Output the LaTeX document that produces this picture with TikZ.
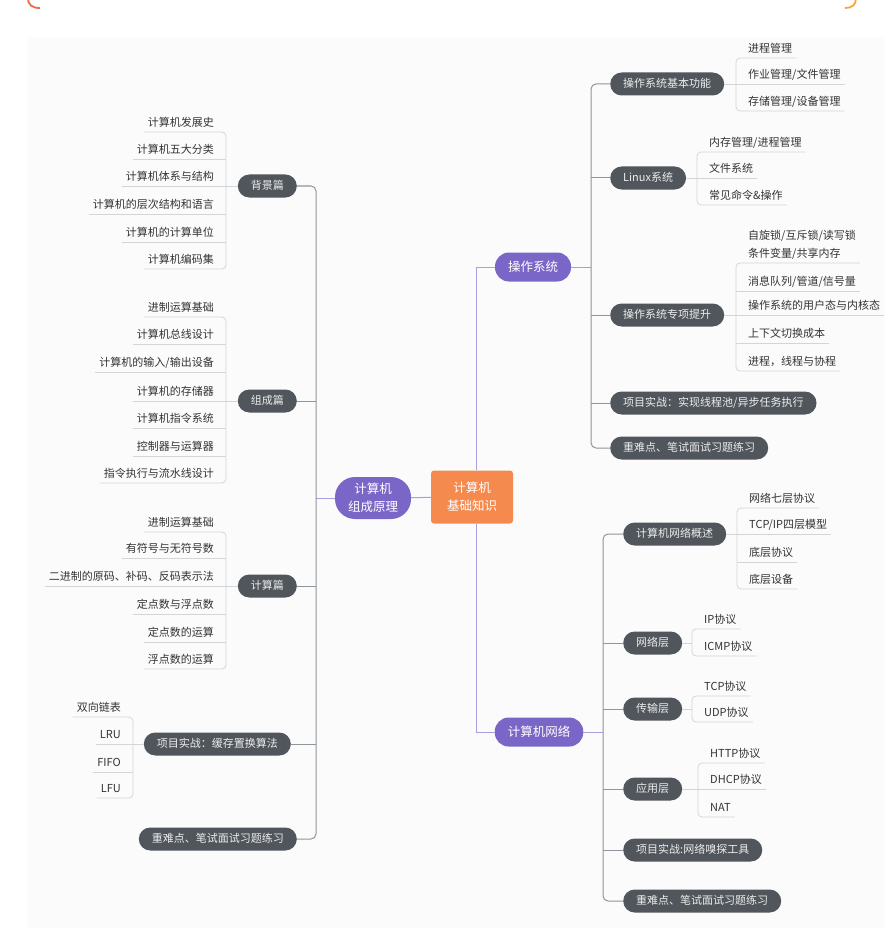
\documentclass[tikz,border=0pt]{standalone}
\usepackage{fontspec}
\setmainfont{Noto Sans CJK SC}
\usepackage{tikz}
\usetikzlibrary{calc}

\definecolor{rootcol}{HTML}{F58A4F}
\definecolor{maincol}{HTML}{7A66C7}
\definecolor{pillcol}{HTML}{50565C}
\definecolor{pilltext}{HTML}{EDEDED}
\definecolor{leaftext}{HTML}{333333}
\definecolor{leafcol}{HTML}{D3D6D9}
\definecolor{spinecol}{HTML}{8F959A}
\definecolor{lavcol}{HTML}{A99EDF}
\definecolor{bgcol}{HTML}{FBFBFB}
\definecolor{crescL}{HTML}{F26A3D}
\definecolor{crescR}{HTML}{F8A33C}

\newcommand{\leaffont}{\fontsize{11pt}{13pt}\selectfont}
\newcommand{\topicfont}{\fontsize{12.5pt}{18pt}\selectfont}

\tikzset{
  rootbox/.style={fill=rootcol, rounded corners=3pt, text=white, font=\topicfont,
    align=center, minimum width=82pt, minimum height=53pt, inner sep=0pt},
  mainpill/.style={fill=maincol, text=white, font=\topicfont, align=center,
    rounded corners=14pt, inner xsep=13pt, inner ysep=0pt, minimum height=29pt},
  subpill/.style={fill=pillcol, text=pilltext, font=\leaffont, rounded corners=11.5pt,
    inner xsep=13pt, inner ysep=0pt, minimum height=23pt, text height=9pt, text depth=2pt},
  leaf/.style={text=leaftext, font=\leaffont, inner xsep=4pt, inner ysep=3pt,
    text height=9pt, text depth=2pt},
  leafL/.style={leaf, anchor=south east},
  leafR/.style={leaf, anchor=south west},
  leafline/.style={draw=leafcol, line width=0.8pt},
  spine/.style={draw=spinecol, line width=1pt},
  lavline/.style={draw=lavcol, line width=1pt},
}

\begin{document}
\begin{tikzpicture}[x=1pt, y=-1pt]
\useasboundingbox (0,0) rectangle (885,928);
\fill[bgcol] (27,37) rectangle (885,928);
% corners of the card above
\draw[crescL, line width=1.8pt] (28,-2) .. controls (28,5) and (32,8) .. (40,8);
\draw[crescR, line width=1.8pt] (845,8) .. controls (852,8) and (856,5) .. (856,-2);

% centre and main topics
\node[rootbox] (root) at (472,497) {计算机\\基础知识};
\node[mainpill, minimum width=75pt, minimum height=42pt, rounded corners=20pt] (zc) at (373,498) {计算机\\组成原理};
\node[mainpill] (os) at (533,267) {操作系统};
\node[mainpill] (net) at (539,732) {计算机网络};

\coordinate (rt) at (476,0);
\coordinate (lS) at (316,0);
\coordinate (oS) at (591,0);
\coordinate (nS) at (603,0);
\draw[lavline] (root.north -| rt) |- (os);
\draw[lavline] (root.south -| rt) |- (net);
\draw[lavline] (root) -- (zc);
\draw[lavline] (zc) -- (zc -| lS);
\draw[lavline] (os) -- (os -| oS);
\draw[lavline] (net) -- (net -| nS);

% left topics
\node[subpill, anchor=east] (bj) at (297,186) {背景篇};
\node[subpill, anchor=east] (zcp) at (297,401) {组成篇};
\node[subpill, anchor=east] (js) at (297,586) {计算篇};
\node[subpill, anchor=east] (hc) at (291,744) {项目实战：缓存置换算法};
\node[subpill, anchor=east] (lzd) at (297,839) {重难点、笔试面试习题练习};
\draw[spine, rounded corners=5pt] (bj) -| (lS |- lzd) -- (lzd);
\draw[spine] (zcp) -- (zcp -| lS);
\draw[spine] (js) -- (js -| lS);
\draw[spine] (hc) -- (hc -| lS);

% operating system topics
\node[subpill, anchor=west] (os1) at (610,84) {操作系统基本功能};
\node[subpill, anchor=west] (os2) at (610,178) {Linux系统};
\node[subpill, anchor=west] (os3) at (610,315) {操作系统专项提升};
\node[subpill, anchor=west] (os4) at (610,403) {项目实战：实现线程池/异步任务执行};
\node[subpill, anchor=west] (os5) at (610,448) {重难点、笔试面试习题练习};
\draw[spine, rounded corners=5pt] (os1) -| (oS |- os5) -- (os5);
\draw[spine] (os2) -- (os2 -| oS);
\draw[spine] (os3) -- (os3 -| oS);
\draw[spine] (os4) -- (os4 -| oS);

% network topics
\node[subpill, anchor=west] (n1) at (623,534) {计算机网络概述};
\node[subpill, anchor=west] (n2) at (623,643) {网络层};
\node[subpill, anchor=west] (n3) at (623,709) {传输层};
\node[subpill, anchor=west] (n4) at (623,789) {应用层};
\node[subpill, anchor=west] (n5) at (623,850) {项目实战:网络嗅探工具};
\node[subpill, anchor=west] (n6) at (623,901) {重难点、笔试面试习题练习};
\draw[spine, rounded corners=5pt] (n1) -| (nS |- n6) -- (n6);
\draw[spine] (n2) -- (n2 -| nS);
\draw[spine] (n3) -- (n3 -| nS);
\draw[spine] (n4) -- (n4 -| nS);
\draw[spine] (n5) -- (n5 -| nS);

% 背景篇
\coordinate (bjB) at (226,186);
\node[leafL] (bj1) at (218,132) {计算机发展史};
\node[leafL] (bj2) at (218,159) {计算机五大分类};
\node[leafL] (bj3) at (218,186) {计算机体系与结构};
\node[leafL] (bj4) at (218,214) {计算机的层次结构和语言};
\node[leafL] (bj5) at (218,242) {计算机的计算单位};
\node[leafL] (bj6) at (218,269) {计算机编码集};
\draw[leafline, rounded corners=4pt] (bj1.south west) -- (bj1.south west -| bjB) -- (bj6.south west -| bjB) -- (bj6.south west);
\draw[leafline] (bj2.south west) -- (bj2.south west -| bjB);
\draw[leafline] (bj3.south west) -- (bj3.south west -| bjB);
\draw[leafline] (bj4.south west) -- (bj4.south west -| bjB);
\draw[leafline] (bj5.south west) -- (bj5.south west -| bjB);
\draw[leafline] (bj) -- (bjB);

% 组成篇
\coordinate (zcB) at (226,401);
\node[leafL] (zc1) at (218,317) {进制运算基础};
\node[leafL] (zc2) at (218,344) {计算机总线设计};
\node[leafL] (zc3) at (218,372) {计算机的输入/输出设备};
\node[leafL] (zc4) at (218,401) {计算机的存储器};
\node[leafL] (zc5) at (218,428) {计算机指令系统};
\node[leafL] (zc6) at (218,456) {控制器与运算器};
\node[leafL] (zc7) at (218,483) {指令执行与流水线设计};
\draw[leafline, rounded corners=4pt] (zc1.south west) -- (zc1.south west -| zcB) -- (zc7.south west -| zcB) -- (zc7.south west);
\draw[leafline] (zc2.south west) -- (zc2.south west -| zcB);
\draw[leafline] (zc3.south west) -- (zc3.south west -| zcB);
\draw[leafline] (zc4.south west) -- (zc4.south west -| zcB);
\draw[leafline] (zc5.south west) -- (zc5.south west -| zcB);
\draw[leafline] (zc6.south west) -- (zc6.south west -| zcB);
\draw[leafline] (zcp) -- (zcB);

% 计算篇
\coordinate (jsB) at (226,586);
\node[leafL] (js1) at (218,532) {进制运算基础};
\node[leafL] (js2) at (218,558) {有符号与无符号数};
\node[leafL] (js3) at (218,586) {二进制的原码、补码、反码表示法};
\node[leafL] (js4) at (218,614) {定点数与浮点数};
\node[leafL] (js5) at (218,642) {定点数的运算};
\node[leafL] (js6) at (218,669) {浮点数的运算};
\draw[leafline, rounded corners=4pt] (js1.south west) -- (js1.south west -| jsB) -- (js6.south west -| jsB) -- (js6.south west);
\draw[leafline] (js2.south west) -- (js2.south west -| jsB);
\draw[leafline] (js3.south west) -- (js3.south west -| jsB);
\draw[leafline] (js4.south west) -- (js4.south west -| jsB);
\draw[leafline] (js5.south west) -- (js5.south west -| jsB);
\draw[leafline] (js) -- (jsB);

% 缓存置换算法
\coordinate (hcB) at (133,744);
\node[leafL] (hc1) at (125,717) {双向链表};
\node[leafL] (hc2) at (125,744) {LRU};
\node[leafL] (hc3) at (125,772) {FIFO};
\node[leafL] (hc4) at (125,798) {LFU};
\draw[leafline, rounded corners=4pt] (hc1.south west) -- (hc1.south west -| hcB) -- (hc4.south west -| hcB) -- (hc4.south west);
\draw[leafline] (hc2.south west) -- (hc2.south west -| hcB);
\draw[leafline] (hc3.south west) -- (hc3.south west -| hcB);
\draw[leafline] (hc) -- (hcB);

% 操作系统基本功能
\coordinate (os1B) at (736,84);
\node[leafR] (os1a) at (744,58) {进程管理};
\node[leafR] (os1b) at (744,84) {作业管理/文件管理};
\node[leafR] (os1c) at (744,111) {存储管理/设备管理};
\draw[leafline, rounded corners=4pt] (os1a.south east) -- (os1a.south east -| os1B) -- (os1c.south east -| os1B) -- (os1c.south east);
\draw[leafline] (os1b.south east) -- (os1b.south east -| os1B);
\draw[leafline] (os1) -- (os1B);

% Linux系统
\coordinate (os2B) at (697,178);
\node[leafR] (os2a) at (705,152) {内存管理/进程管理};
\node[leafR] (os2b) at (705,178) {文件系统};
\node[leafR] (os2c) at (705,205) {常见命令\&操作};
\draw[leafline, rounded corners=4pt] (os2a.south east) -- (os2a.south east -| os2B) -- (os2c.south east -| os2B) -- (os2c.south east);
\draw[leafline] (os2b.south east) -- (os2b.south east -| os2B);
\draw[leafline] (os2) -- (os2B);

% 操作系统专项提升
\coordinate (os3B) at (736,315);
\node[leafR, text height=, text depth=, align=left] (os3a) at (744,263) {自旋锁/互斥锁/读写锁\\[5pt]条件变量/共享内存};
\node[leafR] (os3b) at (744,291) {消息队列/管道/信号量};
\node[leafR] (os3c) at (744,315) {操作系统的用户态与内核态};
\node[leafR] (os3d) at (744,343) {上下文切换成本};
\node[leafR] (os3e) at (744,371) {进程，线程与协程};
\draw[leafline, rounded corners=4pt] (os3a.south east) -- (os3a.south east -| os3B) -- (os3e.south east -| os3B) -- (os3e.south east);
\draw[leafline] (os3b.south east) -- (os3b.south east -| os3B);
\draw[leafline] (os3c.south east) -- (os3c.south east -| os3B);
\draw[leafline] (os3d.south east) -- (os3d.south east -| os3B);
\draw[leafline] (os3) -- (os3B);

% 计算机网络概述
\coordinate (n1B) at (737,534);
\node[leafR] (n1a) at (745,508) {网络七层协议};
\node[leafR] (n1b) at (745,534) {TCP/IP四层模型};
\node[leafR] (n1c) at (745,562) {底层协议};
\node[leafR] (n1d) at (745,589) {底层设备};
\draw[leafline, rounded corners=4pt] (n1a.south east) -- (n1a.south east -| n1B) -- (n1d.south east -| n1B) -- (n1d.south east);
\draw[leafline] (n1b.south east) -- (n1b.south east -| n1B);
\draw[leafline] (n1c.south east) -- (n1c.south east -| n1B);
\draw[leafline] (n1) -- (n1B);

% 网络层
\coordinate (n2B) at (692,643);
\node[leafR] (n2a) at (700,629) {IP协议};
\node[leafR] (n2b) at (700,656) {ICMP协议};
\draw[leafline, rounded corners=4pt] (n2a.south east) -- (n2a.south east -| n2B) -- (n2b.south east -| n2B) -- (n2b.south east);
\draw[leafline] (n2) -- (n2B);

% 传输层
\coordinate (n3B) at (692,709);
\node[leafR] (n3a) at (700,696) {TCP协议};
\node[leafR] (n3b) at (700,722) {UDP协议};
\draw[leafline, rounded corners=4pt] (n3a.south east) -- (n3a.south east -| n3B) -- (n3b.south east -| n3B) -- (n3b.south east);
\draw[leafline] (n3) -- (n3B);

% 应用层
\coordinate (n4B) at (698,789);
\node[leafR] (n4a) at (706,763) {HTTP协议};
\node[leafR] (n4b) at (706,789) {DHCP协议};
\node[leafR] (n4c) at (706,817) {NAT};
\draw[leafline, rounded corners=4pt] (n4a.south east) -- (n4a.south east -| n4B) -- (n4c.south east -| n4B) -- (n4c.south east);
\draw[leafline] (n4b.south east) -- (n4b.south east -| n4B);
\draw[leafline] (n4) -- (n4B);
\end{tikzpicture}
\end{document}
